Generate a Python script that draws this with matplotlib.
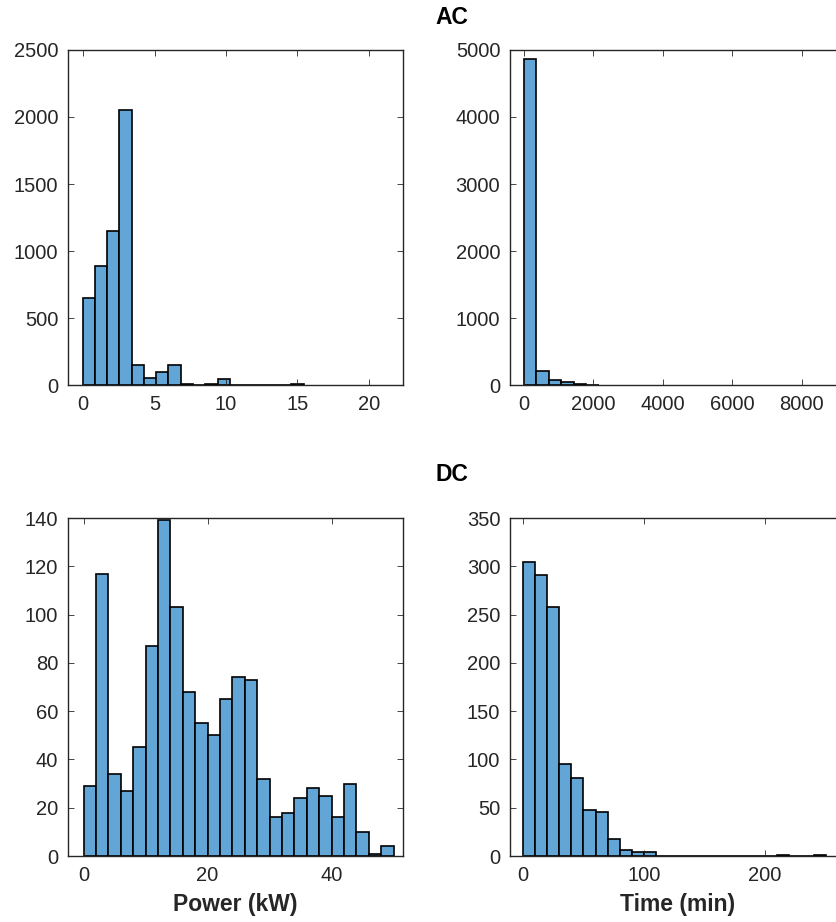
import numpy as np
import matplotlib
matplotlib.use('Agg')
import matplotlib.pyplot as plt

# AC power (kW): bin start, bin width, counts
ac_power_start = -0.05
ac_power_width = 0.86
ac_power_counts = [647, 888, 1152, 2052, 149, 50, 95, 149, 8, 0, 5, 42,
                   0, 0, 0, 0, 0, 5]

# AC time (min)
ac_time_start = 0
ac_time_width = 360
ac_time_counts = [4866, 209, 75, 50, 20, 4]

# DC power (kW)
dc_power_start = 0
dc_power_width = 2
dc_power_counts = [29, 117, 34, 27, 45, 87, 139, 103, 68, 55, 50, 65, 74,
                   73, 32, 16, 18, 24, 28, 25, 16, 30, 10, 1, 4]

# DC time (min)
dc_time_start = 0
dc_time_width = 10
dc_time_counts = [304, 291, 258, 95, 81, 48, 46, 18, 6, 4, 4, 0, 0, 0, 0,
                  0, 0, 0, 0, 0, 0, 1, 0, 0, 1]

plt.rcParams['font.family'] = ['Liberation Sans', 'DejaVu Sans']
plt.rcParams['font.size'] = 14.5

bar_color = '#62a6d8'
axis_color = '#262626'

fig = plt.figure(figsize=(8.37, 9.22), dpi=100)
W, H = 837.0, 922.0


def make_axes(x0, y0, x1, y1):
    return fig.add_axes([x0 / W, 1 - y1 / H, (x1 - x0) / W, (y1 - y0) / H])


def draw_hist(ax, start, width, counts, xlim, ylim, xticks, yticks):
    edges = start + width * np.arange(len(counts))
    ax.bar(edges, counts, width=width, align='edge', color=bar_color,
           edgecolor='black', linewidth=1.2)
    ax.set_xlim(xlim)
    ax.set_ylim(ylim)
    ax.set_xticks(xticks)
    ax.set_yticks(yticks)
    ax.tick_params(direction='in', length=4, width=0.6, top=True, right=True,
                   colors=axis_color, labelcolor=axis_color, pad=7)
    for s in ax.spines.values():
        s.set_color(axis_color)
        s.set_linewidth(1.0)


ax1 = make_axes(68, 50, 403, 385)
draw_hist(ax1, ac_power_start, ac_power_width, ac_power_counts,
          (-1.07, 22.4), (0, 2500), [0, 5, 10, 15, 20],
          [0, 500, 1000, 1500, 2000, 2500])

ax2 = make_axes(510, 50, 845, 385)
draw_hist(ax2, ac_time_start, ac_time_width, ac_time_counts,
          (-400, 9240), (0, 5000), [0, 2000, 4000, 6000, 8000],
          [0, 1000, 2000, 3000, 4000, 5000])

ax3 = make_axes(68, 518, 403, 856)
draw_hist(ax3, dc_power_start, dc_power_width, dc_power_counts,
          (-2.5, 51.5), (0, 140), [0, 20, 40],
          [0, 20, 40, 60, 80, 100, 120, 140])
ax3.set_xlabel('Power (kW)', fontweight='bold', fontsize=16.5,
               color=axis_color, labelpad=6)

ax4 = make_axes(510, 518, 845, 856)
draw_hist(ax4, dc_time_start, dc_time_width, dc_time_counts,
          (-10.7, 266), (0, 350), [0, 100, 200],
          [0, 50, 100, 150, 200, 250, 300, 350])
ax4.set_xlabel('Time (min)', fontweight='bold', fontsize=16.5,
               color=axis_color, labelpad=6)

fig.text(452 / W, 1 - 18 / H, 'AC', ha='center', va='center',
         fontweight='bold', fontsize=16.5, color='black')
fig.text(452 / W, 1 - 474 / H, 'DC', ha='center', va='center',
         fontweight='bold', fontsize=16.5, color='black')

fig.savefig('out.png', dpi=100)
